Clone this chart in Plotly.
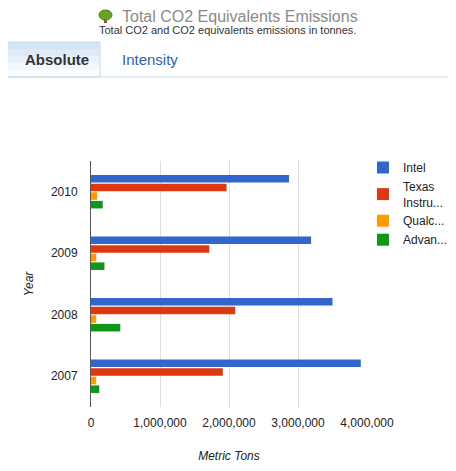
import plotly.graph_objects as go

years = ["2010", "2009", "2008", "2007"]
intel = [2870000, 3190000, 3500000, 3910000]
texas = [1965000, 1715000, 2090000, 1910000]
qualcomm = [90000, 77000, 77000, 77000]
amd = [170000, 195000, 425000, 120000]

names = ["Intel", "Texas<br>Instru...", "Qualc...", "Advan..."]
colors = ["#3366cc", "#dc3912", "#ff9900", "#109618"]
font = "Liberation Sans, Arial, sans-serif"

# the page body adds an 8px margin, so the figure is drawn 8px smaller
OFF = 8
# plot area in page pixels, used to place the page decorations
L, R, T, B = 91, 367, 161, 407
W, H = R - L, B - T


def px(x):
    return (x - L) / W


def py(y):
    return (B - y) / H


fig = go.Figure()
for name, vals, col in zip(names, [intel, texas, qualcomm, amd], colors):
    fig.add_trace(go.Bar(y=years, x=vals, name=name, orientation="h",
                         marker=dict(color=col, line=dict(width=0))))

fig.update_layout(
    width=456 - OFF, height=471 - OFF,
    margin=dict(l=L - OFF, r=456 - R, t=T - OFF, b=471 - B, autoexpand=False),
    paper_bgcolor="white", plot_bgcolor="white",
    font=dict(family=font, size=12, color="#222"),
    barmode="group", bargap=0.44, bargroupgap=0.12,
    showlegend=True,
    legend=dict(x=px(363), y=py(153), xanchor="left", yanchor="top",
                font=dict(size=12, color="#222"), tracegroupgap=3,
                itemwidth=30, bgcolor="rgba(0,0,0,0)"),
    xaxis=dict(range=[0, 4000000], tickvals=[0, 1000000, 2000000, 3000000, 4000000],
               tickformat=",d", showgrid=True, gridcolor="#dddddd", gridwidth=1,
               zeroline=False, showline=False, ticks="outside", ticklen=5,
               tickcolor="rgba(0,0,0,0)", fixedrange=True, automargin=False,
               title=dict(text="<i>Metric Tons</i>", font=dict(size=12), standoff=22)),
    yaxis=dict(autorange="reversed", showgrid=False, showline=True,
               linecolor="#555", linewidth=1, ticks="outside", ticklen=10,
               tickcolor="rgba(0,0,0,0)", automargin=False,
               title=dict(text="<i>Year</i>", font=dict(size=12), standoff=14)),
)


def label(x, y, text, size, color):
    fig.add_annotation(x=px(x), y=py(y), xref="paper", yref="paper", showarrow=False,
                       xanchor="center", yanchor="middle", text=text,
                       font=dict(size=size, color=color))


# header: title, subtitle
label(240, 16, "Total CO2 Equivalents Emissions", 16, "#8a8a8a")
label(227, 30, "Total CO2 and CO2 equivalents emissions in tonnes.", 11, "#333")

# little tree icon
fig.add_shape(type="rect", xref="paper", yref="paper",
              x0=px(104), x1=px(107), y0=py(23), y1=py(18),
              fillcolor="#8a5a2b", line=dict(width=0))
fig.add_shape(type="circle", xref="paper", yref="paper",
              x0=px(99), x1=px(112), y0=py(20), y1=py(10),
              fillcolor="#6aa325", line=dict(color="#4d7f16", width=1))

# tabs
fig.add_shape(type="line", xref="paper", yref="paper",
              x0=px(0), x1=px(456), y0=py(77), y1=py(77),
              line=dict(color="#c9dbe9", width=1))
bands = ["#d3e4f3", "#deebf7", "#e9f2fa", "#f3f8fc", "#fbfdfe"]
for i, c in enumerate(bands):
    fig.add_shape(type="rect", xref="paper", yref="paper",
                  x0=px(3), x1=px(100), y0=py(42 + i * 7), y1=py(42 + (i + 1) * 7),
                  fillcolor=c, line=dict(width=0), layer="below")
fig.add_shape(type="rect", xref="paper", yref="paper",
              x0=px(3), x1=px(100), y0=py(77), y1=py(42),
              fillcolor="rgba(0,0,0,0)", line=dict(color="#c9dbe9", width=1))
label(57, 59, "<b>Absolute</b>", 15, "#333")
label(150, 59, "Intensity", 15, "#2f62a3")

fig.write_html("out.html")
